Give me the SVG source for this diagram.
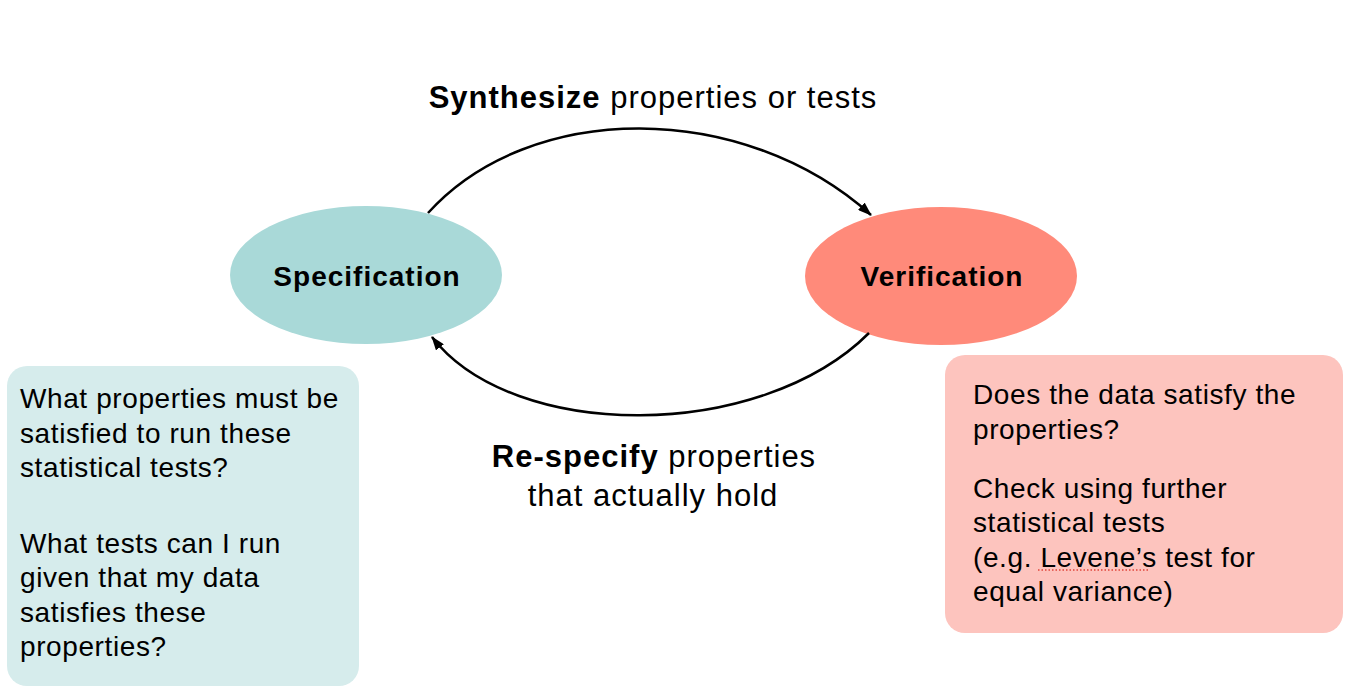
<svg xmlns="http://www.w3.org/2000/svg" width="1356" height="698" viewBox="0 0 1356 698">
<style>
.t{font-family:"Liberation Sans",Arial,Helvetica,sans-serif;font-size:28px;letter-spacing:0.6px;fill:#000}
.big{font-size:31px;letter-spacing:1px;text-anchor:middle}
.b{font-weight:bold}
.lbl{font-family:"Liberation Sans",Arial,Helvetica,sans-serif;font-size:28px;letter-spacing:1px;font-weight:bold;fill:#000;text-anchor:middle}
.c{fill:none;stroke:#000;stroke-width:2.5}
</style>
<defs>
<marker id="ah" viewBox="0 0 14 10" refX="13" refY="5" markerWidth="14" markerHeight="10" markerUnits="userSpaceOnUse" orient="auto">
<path d="M0,0 L14,5 L0,10 Z" fill="#000"/>
</marker>
</defs>
<rect width="1356" height="698" fill="#fff"/>
<g id="spec">
<ellipse cx="366" cy="275" rx="136" ry="69" fill="#A9D9D8"/>
<text class="lbl" x="367" y="286">Specification</text>
</g>
<g id="verif">
<ellipse cx="941" cy="276" rx="136" ry="69" fill="#FF8A7A"/>
<text class="lbl" x="942" y="286">Verification</text>
</g>
<g id="connectors">
<path class="c" d="M428,213 C530,100 743,100 871,215" marker-end="url(#ah)"/>
<path class="c" d="M869,333 C760,442 513,442 432,337" marker-end="url(#ah)"/>
</g>
<g id="label-top">
<text class="t big" x="653" y="108"><tspan class="b">Synthesize</tspan> properties or tests</text>
</g>
<g id="label-bottom">
<text class="t big" x="654" y="467"><tspan class="b">Re-specify</tspan> properties</text>
<text class="t big" x="653" y="506">that actually hold</text>
</g>
<g id="spec-box">
<rect x="7" y="366" width="352" height="320" rx="20" fill="#D6ECEC"/>
<text class="t" x="20" y="408">What properties must be</text>
<text class="t" x="20" y="443">satisfied to run these</text>
<text class="t" x="20" y="477">statistical tests?</text>
<text class="t" x="20" y="553">What tests can I run</text>
<text class="t" x="20" y="587">given that my data</text>
<text class="t" x="20" y="622">satisfies these</text>
<text class="t" x="20" y="656">properties?</text>
</g>
<g id="verif-box">
<rect x="945" y="355" width="398" height="278" rx="20" fill="#FDC4BE"/>
<text class="t" x="973" y="404">Does the data satisfy the</text>
<text class="t" x="973" y="439">properties?</text>
<text class="t" x="973" y="498">Check using further</text>
<text class="t" x="973" y="532">statistical tests</text>
<text class="t" x="973" y="567">(e.g. Levene’s test for</text>
<line x1="1038" y1="570" x2="1150" y2="570" stroke="#E0443A" stroke-width="1.5" stroke-dasharray="1.5,2"/>
<text class="t" x="973" y="601">equal variance)</text>
</g>
</svg>
